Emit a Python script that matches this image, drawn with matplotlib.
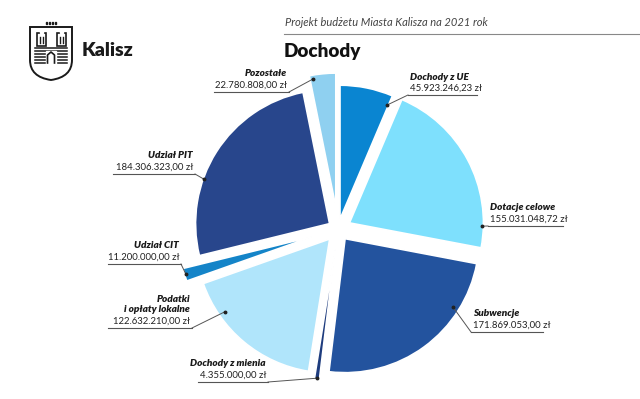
import numpy as np
import matplotlib.pyplot as plt
from matplotlib.patches import Rectangle, PathPatch
from matplotlib.path import Path

plt.rcParams['font.family'] = ['Lato', 'DejaVu Sans']

# slices, clockwise from the top
names = ['Dochody z UE', 'Dotacje celowe', 'Subwencje', 'Dochody z mienia',
         'Podatki\ni opłaty lokalne', 'Udział CIT', 'Udział PIT', 'Pozostałe']
values = [45923246.23, 155031048.72, 171869053.00, 4355000.00,
          122632210.00, 11200000.00, 184306323.00, 22780808.00]
value_labels = ['45.923.246,23 zł', '155.031.048,72 zł', '171.869.053,00 zł', '4.355.000,00 zł',
                '122.632.210,00 zł', '11.200.000,00 zł', '184.306.323,00 zł', '22.780.808,00 zł']
colors = ['#0a85d1', '#7ee0fd', '#23539e', '#1e3c7e',
          '#b0e5fb', '#1484c8', '#28468c', '#8fd0f0']

W, H = 640, 399
explode = [10, 13, 12, 18, 13, 26, 10, 22]

# label layout (pixel coords, y from top): text anchor x, underline y, side
label_x = [410, 490, 473, 266, 190, 179, 193, 287]
label_y = [95, 226, 332, 382, 328, 264, 174, 92]
label_side = ['left', 'left', 'left', 'right', 'right', 'right', 'right', 'right']
line_w = [69, 75, 72, 70, 84, 73, 82, 75]
# where the leader touches the slice: position across wedge (0 = clockwise start), radius fraction
anchor_t = [0.97, 0.88, 0.25, 0.5, 0.75, 0.5, 0.36, 0.1]
anchor_r = [0.92, 0.99, 0.95, 0.99, 0.95, 0.99, 0.99, 0.97]

fig = plt.figure(figsize=(6.4, 3.99), dpi=100)
ax = fig.add_axes([0, 0, 1, 1])

wedges, _ = ax.pie(values, colors=colors, startangle=90, counterclock=False,
                   explode=explode, radius=134, center=(338, H - 229),
                   wedgeprops=dict(linewidth=1.2, edgecolor='white'))
ax.set_xlim(0, W)
ax.set_ylim(0, H)
ax.set_aspect('equal')
ax.axis('off')

for i, w in enumerate(wedges):
    a = np.radians(w.theta2 - anchor_t[i] * (w.theta2 - w.theta1))
    px = w.center[0] + anchor_r[i] * w.r * np.cos(a)
    py = w.center[1] + anchor_r[i] * w.r * np.sin(a)
    ly = H - label_y[i]
    if label_side[i] == 'left':
        x0, x1 = label_x[i] - 2, label_x[i] - 2 + line_w[i]
        joint = x0
        ha = 'left'
    else:
        x0, x1 = label_x[i] + 2 - line_w[i], label_x[i] + 2
        joint = x1
        ha = 'right'
    ax.plot([x0, x1], [ly, ly], color='#555555', lw=0.8)
    ax.plot([joint, px], [ly, py], color='#555555', lw=0.7)
    ax.plot(px, py, 'o', color='#222222', ms=1.8)
    ax.text(label_x[i], ly + 2.5, value_labels[i], ha=ha, va='bottom',
            fontsize=6.9, color='#222222')
    ax.text(label_x[i], ly + 13.5, names[i], ha=ha, va='bottom', fontsize=7.2,
            fontweight='heavy', fontstyle='italic', color='#1a1a1a', linespacing=1.2)

# header
ax.text(285, H - 23, 'Projekt budżetu Miasta Kalisza na 2021 rok', fontsize=8,
        fontstyle='italic', color='#444444', va='center', ha='left')
ax.plot([284, 640], [H - 34, H - 34], color='#888888', lw=0.8)
ax.text(284, H - 52, 'Dochody', fontsize=13.6, fontweight='heavy', color='#111111',
        va='center', ha='left')

# logo
sx0, sx1, sy0, sy1 = 30, 72, 27, 80
codes = [Path.MOVETO, Path.LINETO, Path.LINETO, Path.CURVE3, Path.CURVE3,
         Path.CURVE3, Path.CURVE3, Path.LINETO, Path.CLOSEPOLY]
verts = [(sx0, H - sy0), (sx1, H - sy0), (sx1, H - 60), (sx1, H - 77),
         ((sx0 + sx1) / 2, H - sy1), (sx0, H - 77), (sx0, H - 60), (sx0, H - sy0), (sx0, H - sy0)]
ax.add_patch(PathPatch(Path(verts, codes), fill=False, lw=1.4, edgecolor='#1a1a1a'))
for dx in [45.5, 48.5, 51.5, 54.5]:
    ax.add_patch(Rectangle((dx, H - 23.5), 1.5, 1.5, color='#1a1a1a'))
for tx in [37, 57]:
    ax.add_patch(Rectangle((tx, H - 46), 8.5, 13, fill=False, lw=1.2, edgecolor='#1a1a1a'))
    ax.add_patch(Rectangle((tx + 3, H - 33), 2.5, 2, color='white'))
    ax.plot([tx + 2.5, tx + 2.5], [H - 43, H - 37], color='#1a1a1a', lw=1)
    ax.plot([tx + 6, tx + 6], [H - 43, H - 37], color='#1a1a1a', lw=1)
for yy in [48, 51, 54, 57, 60, 63]:
    ax.plot([35, 67], [H - yy, H - yy], color='#1a1a1a', lw=1.1)
ax.add_patch(Rectangle((46, H - 64), 10, 13, color='white', zorder=3))
ax.plot([47.5, 47.5, 51, 54.5, 54.5], [H - 63, H - 55, H - 52, H - 55, H - 63],
        color='#1a1a1a', lw=1.2, zorder=4)
ax.text(82, H - 51, 'Kalisz', fontsize=14, fontweight='heavy', color='#1a1a1a',
        va='center', ha='left')

fig.savefig('out.png', dpi=100)
